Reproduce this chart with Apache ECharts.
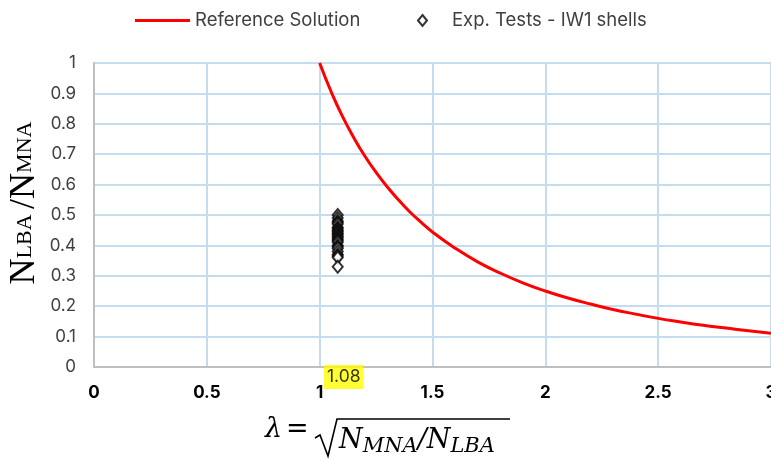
<!DOCTYPE html>
<html><head><meta charset="utf-8">
<script src="https://cdn.jsdelivr.net/npm/echarts@6/dist/echarts.min.js"></script>
<style>html,body{margin:0;padding:0;background:#fff}#c{width:771px;height:461px}</style>
</head><body><div id="c"></div>
<script>
const refLambda = [1.00, 1.05, 1.10, 1.15, 1.20, 1.25, 1.30, 1.35, 1.40, 1.45, 1.50, 1.60, 1.70, 1.80, 1.90, 2.00, 2.10, 2.20, 2.30, 2.40, 2.50, 2.60, 2.70, 2.80, 2.90, 3.00];
const refRatio  = [1.000, 0.907, 0.826, 0.756, 0.694, 0.640, 0.592, 0.549, 0.510, 0.476, 0.444, 0.391, 0.346, 0.309, 0.277, 0.250, 0.227, 0.207, 0.189, 0.174, 0.160, 0.148, 0.137, 0.128, 0.119, 0.111];
const expLambda = 1.08;
const expRatio = [0.50, 0.49, 0.48, 0.475, 0.47, 0.46, 0.455, 0.45, 0.445, 0.44, 0.435, 0.43, 0.425, 0.42, 0.415, 0.41, 0.40, 0.395, 0.39, 0.38, 0.37, 0.365, 0.36, 0.33];
const highlightLabel = '1.08';
const seriesNames = ['Reference Solution', 'Exp. Tests - IW1 shells'];

const chart = echarts.init(document.getElementById('c'));
const font = 'Inter, "Noto Sans", sans-serif';
const serif = '"DejaVu Serif", "Liberation Serif", serif';
const times = '"Liberation Serif", "DejaVu Serif", serif';
chart.setOption({
  animation: false,
  legend: [
    {
      left: 130, top: 6, itemWidth: 55, itemHeight: 3, icon: 'rect',
      textStyle: {fontFamily: font, fontSize: 18.5, color: '#404040'},
      data: [seriesNames[0]]
    },
    {
      left: 412, top: 6, itemWidth: 9, itemHeight: 11, icon: 'diamond',
      textStyle: {fontFamily: font, fontSize: 18.5, color: '#404040', padding: [0, 0, 0, 20]},
      data: [seriesNames[1]]
    }
  ],
  grid: {left: 94, right: 0, top: 63, bottom: 94, containLabel: false, outerBoundsMode: 'none'},
  xAxis: {
    type: 'value', min: 0, max: 3, interval: 0.5,
    axisLine: {show: true, lineStyle: {color: '#bfbfbf', width: 2}},
    axisTick: {show: false},
    splitLine: {show: true, lineStyle: {color: '#c5dcef', width: 2}},
    axisLabel: {margin: 17, fontFamily: font, fontSize: 17, fontWeight: 'bold', color: '#000'}
  },
  yAxis: {
    type: 'value', min: 0, max: 1, interval: 0.1,
    axisLine: {show: true, lineStyle: {color: '#bfbfbf', width: 2}},
    axisTick: {show: false},
    splitLine: {show: true, lineStyle: {color: '#c5dcef', width: 2}},
    axisLabel: {margin: 18, fontFamily: font, fontSize: 17, color: '#404040',
      formatter: v => String(Math.round(v * 10) / 10)}
  },
  series: [
    {
      name: seriesNames[0], type: 'line', smooth: true, symbol: 'none',
      lineStyle: {color: '#ff0000', width: 3}, itemStyle: {color: '#ff0000'},
      data: refLambda.map((x, i) => [x, refRatio[i]]), z: 3
    },
    {
      name: seriesNames[1], type: 'scatter', symbol: 'diamond', symbolSize: [10, 12],
      itemStyle: {color: '#fff', borderColor: '#000', borderWidth: 2},
      data: expRatio.map(y => [expLambda, y]), z: 4
    },
    {
      type: 'scatter', symbolSize: 0, silent: true, z: 5,
      data: [[expLambda, 0]],
      label: {show: true, position: 'bottom', distance: 0, offset: [6, -2],
        formatter: highlightLabel, backgroundColor: '#ffff00',
        padding: [3, 3, 3, 3], fontFamily: font, fontSize: 17.5, color: '#000'}
    }
  ],
  graphic: [
    {
      type: 'text', x: 25, y: 203, rotation: Math.PI / 2,
      style: {
        text: '{n|N}{s|LBA}{g| }{n|/N}{s|MNA}', align: 'center', verticalAlign: 'middle',
        rich: {
          n: {fontFamily: times, fontSize: 36, fill: '#000'},
          s: {fontFamily: times, fontSize: 22, fill: '#000'},
          g: {fontFamily: times, fontSize: 22, fill: '#000'}
        }
      }
    },
    {
      type: 'text', x: 265, y: 443,
      style: {text: 'λ', fontFamily: serif, fontStyle: 'italic', fontSize: 27, fill: '#000', verticalAlign: 'bottom'}
    },
    {
      type: 'text', x: 286, y: 443,
      style: {text: '=', fontFamily: serif, fontSize: 27, fill: '#000', verticalAlign: 'bottom'}
    },
    {
      type: 'polyline',
      shape: {points: [[315, 438], [320, 435], [328, 456], [337, 419], [510, 419]]},
      style: {stroke: '#000', lineWidth: 1.6, fill: null}
    },
    {
      type: 'text', x: 339, y: 424,
      style: {
        text: '{n|N}{s|MNA}{n|/N}{s|LBA}',
        rich: {
          n: {fontFamily: serif, fontStyle: 'italic', fontSize: 27, fill: '#000', height: 32},
          s: {fontFamily: serif, fontStyle: 'italic', fontSize: 21, fill: '#000', padding: [12, 0, 0, 0]}
        }
      }
    }
  ]
});
</script>
</body></html>
